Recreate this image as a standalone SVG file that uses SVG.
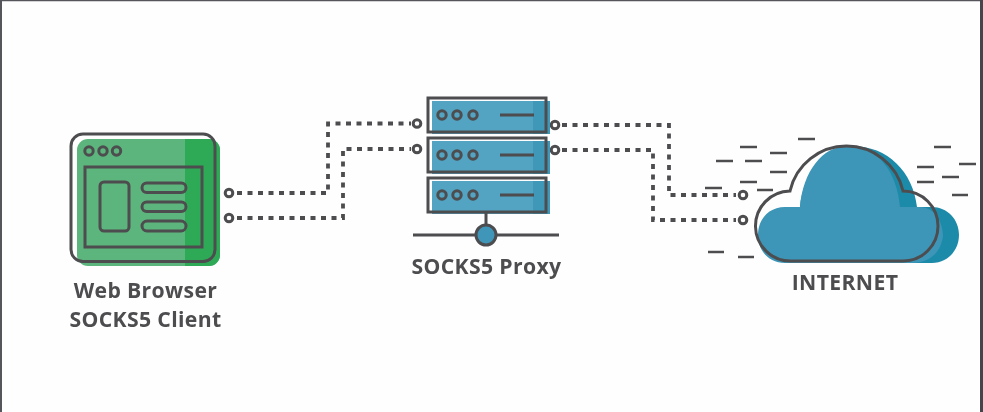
<svg xmlns="http://www.w3.org/2000/svg" width="983" height="412" viewBox="0 0 983 412">
<style>
.ol{fill:none;stroke:#4d4d4f;stroke-width:3}
.ln{fill:none;stroke:#4d4d4f;stroke-width:2.5}
.dash{fill:none;stroke:#4d4d4f;stroke-width:3.800;stroke-dasharray:5 5.500}
.port{fill:#fff;stroke:#4d4d4f;stroke-width:3}
.t{font-family:"Open Sans","Noto Sans",sans-serif;font-weight:700;font-size:21.200px;letter-spacing:.35px;fill:#4d4d4f;text-anchor:middle}
.blue{fill:#52a3c2}.dblue{fill:#3f98b9}
.dot{fill:none;stroke:#4d4d4f;stroke-width:3}
.soft{filter:url(#soft)}
</style>
<defs>
<filter id="soft" x="-5%" y="-5%" width="110%" height="110%"><feGaussianBlur stdDeviation="0.4"/></filter>
<g id="rack">
<rect x="432" y="3" width="118" height="33" class="blue"/>
<rect x="533" y="3" width="17" height="33" class="dblue"/>
<rect x="428" y="0" width="118" height="34" class="ol"/>
<circle cx="442" cy="17" r="4.200" class="dot"/><circle cx="457" cy="17" r="4.200" class="dot"/><circle cx="473" cy="17" r="4.200" class="dot"/>
<path d="M500 17H534" class="ol"/>
</g>
</defs>
<rect width="983" height="412" fill="#fefefe"/>
<path d="M0 .5H983" stroke="#55565c" stroke-width="1.500" fill="none"/>
<path d="M1 0V412" stroke="#55565c" stroke-width="2" fill="none"/>
<path d="M981.500 0V412" stroke="#45464c" stroke-width="3" fill="none"/>

<g id="connectors" class="soft">
<path class="dash" d="M237 193H328V123.500H411"/>
<path class="dash" d="M237 218H343V149H411"/>
<path class="dash" d="M562 125H669V195H736"/>
<path class="dash" d="M562 150H653V220H736"/>
<circle class="port" cx="229" cy="193" r="3.800"/>
<circle class="port" cx="229" cy="218" r="3.800"/>
<circle class="port" cx="417" cy="123.500" r="3.800"/>
<circle class="port" cx="417" cy="149" r="3.800"/>
<circle class="port" cx="555" cy="125" r="3.800"/>
<circle class="port" cx="555" cy="150" r="3.800"/>
<circle class="port" cx="743" cy="195" r="3.800"/>
<circle class="port" cx="743" cy="220" r="3.800"/>
</g>

<g id="browser" class="soft">
<rect x="77" y="139" width="143" height="127" rx="11" fill="#5cb57c"/>
<path d="M185 139H209a11 11 0 0 1 11 11V255a11 11 0 0 1-11 11H185Z" fill="#2eaa57"/>
<rect x="71" y="134" width="144" height="127.500" rx="12" class="ol"/>
<circle cx="89" cy="151" r="4.200" class="dot"/><circle cx="103" cy="151" r="4.200" class="dot"/><circle cx="116.500" cy="151" r="4.200" class="dot"/>
<rect x="85" y="167" width="117" height="80" class="ol"/>
<rect x="100" y="182" width="29" height="49" rx="4" class="ol"/>
<rect x="142" y="183" width="44" height="9.500" rx="4.700" class="ol"/>
<rect x="142" y="202" width="44" height="9.500" rx="4.700" class="ol"/>
<rect x="142" y="221" width="44" height="10" rx="5" class="ol"/>
<text class="t" x="145.500" y="298">Web Browser</text>
<text class="t" x="145.500" y="327">SOCKS5 Client</text>
</g>

<g id="proxy" class="soft">
<use href="#rack" y="98"/>
<use href="#rack" y="138"/>
<use href="#rack" y="178"/>
<path d="M486 212V226" class="ol"/>
<path d="M413 235H559" class="ol"/>
<circle cx="486" cy="235" r="10" fill="#3f96b8" stroke="#4d4d4f" stroke-width="3"/>
<text class="t" x="486.500" y="274">SOCKS5 Proxy</text>
</g>

<g id="internet" class="soft">
<path class="ln" d="M798 139H815M740 147H757M770 153H787M716 161H733M745 161H762M770 172H787M740 182H757M705 188H722M757 190H773M708 252H724M738 257H754M934 147H951M917 167H934M959 164H976M942 177H959M917 182H934M952 195H968"/>
<path d="M800 207C803 175 824 146 852 146C888 146 913 172 917 207H932C947 207 959 219 959 235C959 251 947 263 932 263H880V207Z" fill="#1f8aa9"/>
<path d="M785 207H800C803 172 822 146 848 146C878 146 897 172 900 207H920C934 207 943 222 943 236C941 252 930 263 912 263H785C769 263 758 251 758 235C758 219 769 207 785 207Z" fill="#3c96b7"/>
<path class="ol" d="M790 191A58 58 0 0 1 903 191A35 35 0 0 1 903 261H791A35 35 0 0 1 790 191Z" stroke-width="3.500"/>
<text class="t" x="845" y="290">INTERNET</text>
</g>
</svg>
